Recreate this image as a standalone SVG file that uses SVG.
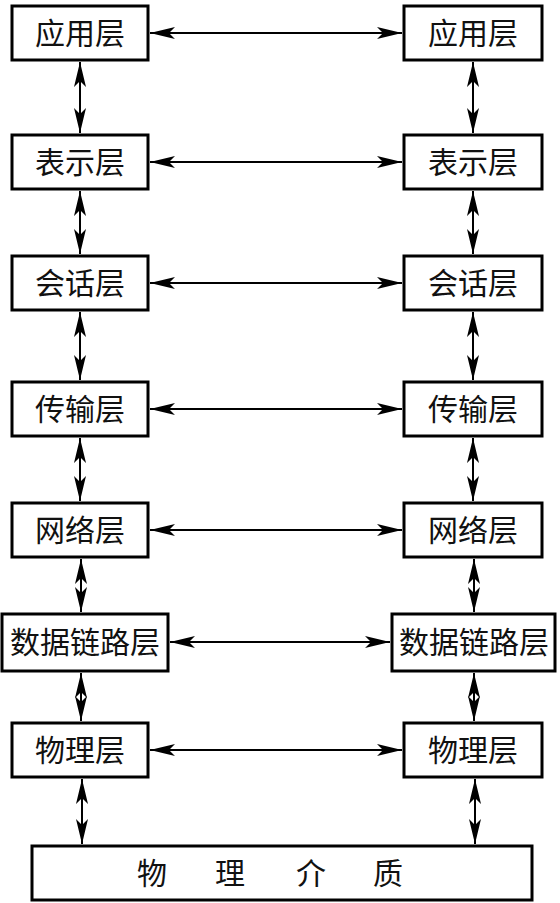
<svg xmlns="http://www.w3.org/2000/svg" width="560" height="903" viewBox="0 0 560 903">
<style>
.box{fill:#fff;stroke:#000;stroke-width:3}
.lbl{font-family:"Noto Sans CJK SC","Noto Sans CJK JP",sans-serif;font-size:30px;fill:#111;text-anchor:middle}
.con{stroke:#000;stroke-width:2;fill:none;marker-start:url(#ah);marker-end:url(#ah)}
</style>
<defs>
<marker id="ah" markerUnits="userSpaceOnUse" viewBox="-26 -7 28 14" refX="0" refY="0" markerWidth="28" markerHeight="14" orient="auto-start-reverse">
<path d="M0,0 L-25,-6 L-19,0 L-25,6 Z" fill="#000"/>
</marker>
</defs>
<g id="L1"><rect class="box" x="12" y="6" width="136" height="54"/><text class="lbl" x="80" y="44">应用层</text></g>
<g id="L2"><rect class="box" x="12" y="135" width="136" height="54"/><text class="lbl" x="80" y="173">表示层</text></g>
<g id="L3"><rect class="box" x="12" y="256" width="136" height="54"/><text class="lbl" x="80" y="294">会话层</text></g>
<g id="L4"><rect class="box" x="12" y="382" width="136" height="54"/><text class="lbl" x="80" y="420">传输层</text></g>
<g id="L5"><rect class="box" x="12" y="503" width="136" height="54"/><text class="lbl" x="80" y="541">网络层</text></g>
<g id="L6"><rect class="box" x="2" y="614" width="166" height="57"/><text class="lbl" x="85" y="653">数据链路层</text></g>
<g id="L7"><rect class="box" x="12" y="723" width="136" height="54"/><text class="lbl" x="80" y="761">物理层</text></g>
<g id="R1"><rect class="box" x="404" y="6" width="138" height="54"/><text class="lbl" x="473" y="44">应用层</text></g>
<g id="R2"><rect class="box" x="404" y="135" width="138" height="54"/><text class="lbl" x="473" y="173">表示层</text></g>
<g id="R3"><rect class="box" x="404" y="256" width="138" height="54"/><text class="lbl" x="473" y="294">会话层</text></g>
<g id="R4"><rect class="box" x="404" y="382" width="138" height="54"/><text class="lbl" x="473" y="420">传输层</text></g>
<g id="R5"><rect class="box" x="404" y="503" width="138" height="54"/><text class="lbl" x="473" y="541">网络层</text></g>
<g id="R6"><rect class="box" x="392" y="614" width="163" height="57"/><text class="lbl" x="474" y="653">数据链路层</text></g>
<g id="R7"><rect class="box" x="404" y="723" width="138" height="54"/><text class="lbl" x="473" y="761">物理层</text></g>
<g id="medium"><rect class="box" x="32" y="846" width="500" height="54"/><text class="lbl" x="152 230 311 388" y="884">物理介质</text></g>
<g id="connectors">
<line class="con" x1="150" y1="33" x2="402" y2="33"/>
<line class="con" x1="150" y1="162" x2="402" y2="162"/>
<line class="con" x1="150" y1="283" x2="402" y2="283"/>
<line class="con" x1="150" y1="409" x2="402" y2="409"/>
<line class="con" x1="150" y1="530" x2="402" y2="530"/>
<line class="con" x1="170" y1="642" x2="390" y2="642"/>
<line class="con" x1="150" y1="750" x2="402" y2="750"/>
<line class="con" x1="80" y1="62" x2="80" y2="133"/>
<line class="con" x1="80" y1="191" x2="80" y2="254"/>
<line class="con" x1="80" y1="312" x2="80" y2="380"/>
<line class="con" x1="80" y1="438" x2="80" y2="501"/>
<line class="con" x1="81" y1="559" x2="81" y2="612"/>
<line class="con" x1="81" y1="673" x2="81" y2="721"/>
<line class="con" x1="82" y1="779" x2="82" y2="844"/>
<line class="con" x1="473" y1="62" x2="473" y2="133"/>
<line class="con" x1="473" y1="191" x2="473" y2="254"/>
<line class="con" x1="473" y1="312" x2="473" y2="380"/>
<line class="con" x1="473" y1="438" x2="473" y2="501"/>
<line class="con" x1="474" y1="559" x2="474" y2="612"/>
<line class="con" x1="474" y1="673" x2="474" y2="721"/>
<line class="con" x1="475" y1="779" x2="475" y2="844"/>
</g>
</svg>
